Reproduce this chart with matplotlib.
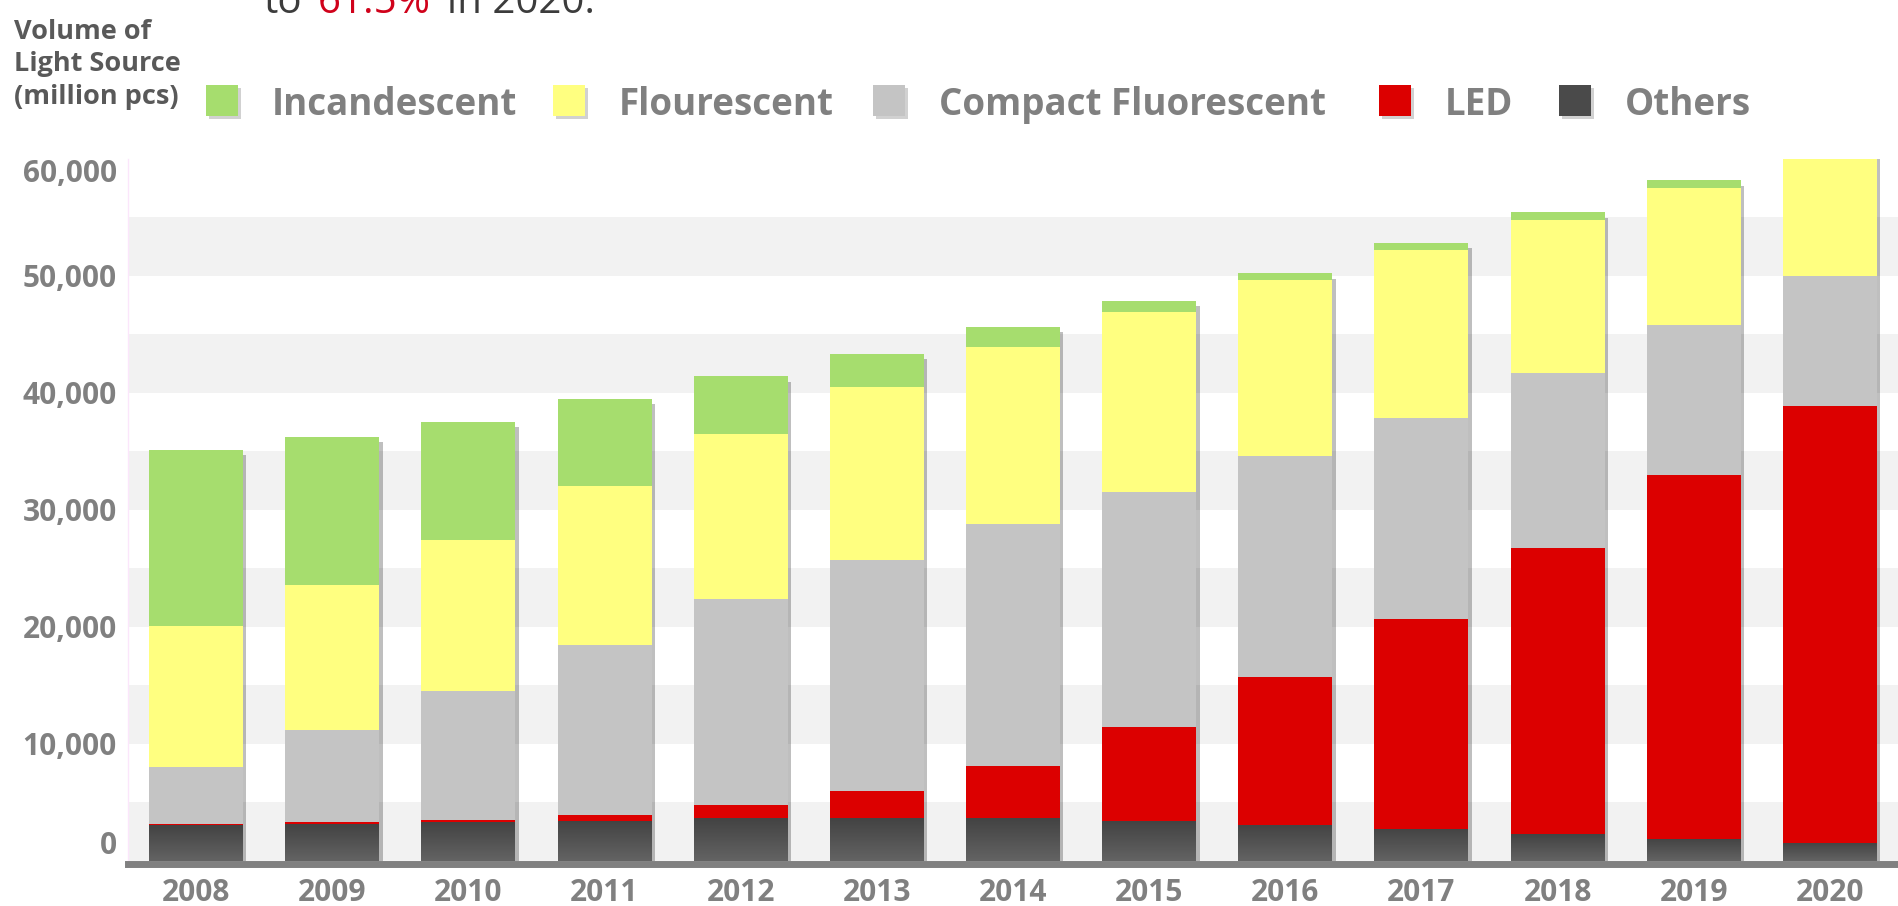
import numpy as np
import matplotlib
matplotlib.use('Agg')
import matplotlib.pyplot as plt
from matplotlib.patches import Rectangle
from matplotlib.colors import LinearSegmentedColormap

# Chart data (million pcs)
years = ['2008', '2009', '2010', '2011', '2012', '2013', '2014',
         '2015', '2016', '2017', '2018', '2019', '2020']
others = [3050, 3150, 3300, 3450, 3650, 3650, 3650, 3400, 3100, 2750, 2300, 1900, 1550]
led = [100, 150, 200, 500, 1100, 2350, 4500, 8050, 12600, 17950, 24450, 31050, 37350]
cfl = [4900, 7900, 11000, 14500, 17650, 19700, 20650, 20050, 18900, 17100, 14950, 12850, 11050]
fluorescent = [12050, 12400, 12950, 13550, 14050, 14750, 15100, 15400, 15000, 14400, 13050, 11700, 11500]
incandescent = [15000, 12650, 10050, 7450, 4950, 2900, 1750, 950, 600, 600, 650, 650, 500]

series_names = ['Incandescent', 'Flourescent', 'Compact Fluorescent', 'LED', 'Others']
y_ticks = [0, 10000, 20000, 30000, 40000, 50000, 60000]

W, H = 1898, 906
fig = plt.figure(figsize=(W / 100, H / 100), dpi=100)

def fx(px):
    return px / W

def fy(py):
    return 1 - py / H

# plot area in pixels: left 128, right edge, top 158.6, bottom 861
ax = fig.add_axes([fx(128), fy(861), fx(W - 128), (861 - 158.6) / H])

x = np.arange(len(years))
width = 0.69

# alternating background bands every 5000
for lo in range(0, 60000, 10000):
    ax.axhspan(lo, lo + 5000, color='#f2f2f2', zorder=0, lw=0)

stack = [np.array(others), np.array(led), np.array(cfl),
         np.array(fluorescent), np.array(incandescent)]
totals = np.sum(stack, axis=0)

# drop shadow behind each stack
ax.bar(x + 0.025, totals - 450, width, color='black', alpha=0.25, zorder=1, lw=0)

colors = ['#5a5a5a', '#dc0000', '#c4c4c4', '#ffff80', '#a6dd6e']
bottom = np.zeros(len(years))
containers = []
for vals, c in zip(stack, colors):
    bc = ax.bar(x, vals, width, bottom=bottom, color=c, zorder=2, lw=0)
    containers.append(bc)
    bottom = bottom + vals

# vertical gradient on the "Others" segments
grad_cmap = LinearSegmentedColormap.from_list('oth', ['#636363', '#434343'])
grad = np.linspace(0, 1, 64).reshape(-1, 1)
for rect in containers[0]:
    x0 = rect.get_x()
    h = rect.get_height()
    im = ax.imshow(grad, cmap=grad_cmap, extent=[x0, x0 + rect.get_width(), 0, h],
                   origin='lower', aspect='auto', zorder=2.5)
    im.set_clip_path(rect)

ax.set_xlim(-0.5, 12.5)
ax.set_ylim(0, 60000)

# axes styling
for s in ['top', 'right']:
    ax.spines[s].set_visible(False)
ax.spines['left'].set_color('#fbe6fb')
ax.spines['left'].set_linewidth(1)
ax.spines['bottom'].set_color('#808080')
ax.spines['bottom'].set_linewidth(5)
ax.spines['bottom'].set_position(('outward', 2.5))
ax.spines['bottom'].set_zorder(3)

ax.set_xticks(x)
ax.set_xticklabels(years)
ax.set_yticks(y_ticks)
ax.set_yticklabels([f'{v:,}' for v in y_ticks])
ax.tick_params(axis='both', length=0, colors='#808080')
ax.tick_params(axis='x', pad=10)
ax.tick_params(axis='y', pad=8)
for lab in ax.get_xticklabels() + ax.get_yticklabels():
    lab.set_fontfamily('Open Sans')
    lab.set_fontweight('bold')
    lab.set_fontsize(21.5)
ylabs = ax.get_yticklabels()
ylabs[0].set_verticalalignment('bottom')
ylabs[-1].set_verticalalignment('top')

# y axis title, top left
fig.text(fx(14), fy(19), 'Volume of\nLight Source\n(million pcs)', ha='left', va='top',
         fontfamily='Open Sans', fontweight='bold', fontsize=19.5, color='#595959',
         linespacing=1.32, transform=fig.transFigure)

# legend drawn by hand
leg_x = [206, 553, 873, 1379, 1559]
leg_colors = ['#a6dd6e', '#ffff80', '#c4c4c4', '#dc0000', '#4a4a4a']
for name, lx, c in zip(series_names, leg_x, leg_colors):
    fig.patches.append(Rectangle((fx(lx + 3), fy(119)), fx(32), 31 / H,
                                 transform=fig.transFigure, color='black', alpha=0.18, lw=0))
    fig.patches.append(Rectangle((fx(lx), fy(116)), fx(32), 31 / H,
                                 transform=fig.transFigure, color=c, lw=0))
    fig.text(fx(lx + 66), fy(115), name, ha='left', va='baseline',
             fontfamily='Open Sans', fontweight='bold', fontsize=26.5, color='#808080')

# title remnant, clipped by the top edge as in the source image
fig.text(fx(263), fy(13), 'to', ha='left', va='baseline',
         fontfamily='Open Sans', fontsize=29, color='#3c3c3c')
fig.text(fx(318), fy(13), '61.5%', ha='left', va='baseline',
         fontfamily='Open Sans', fontsize=29, color='#d0021b')
fig.text(fx(447), fy(13), 'in 2020.', ha='left', va='baseline',
         fontfamily='Open Sans', fontsize=29, color='#3c3c3c')

fig.savefig('out.png', dpi=100)
